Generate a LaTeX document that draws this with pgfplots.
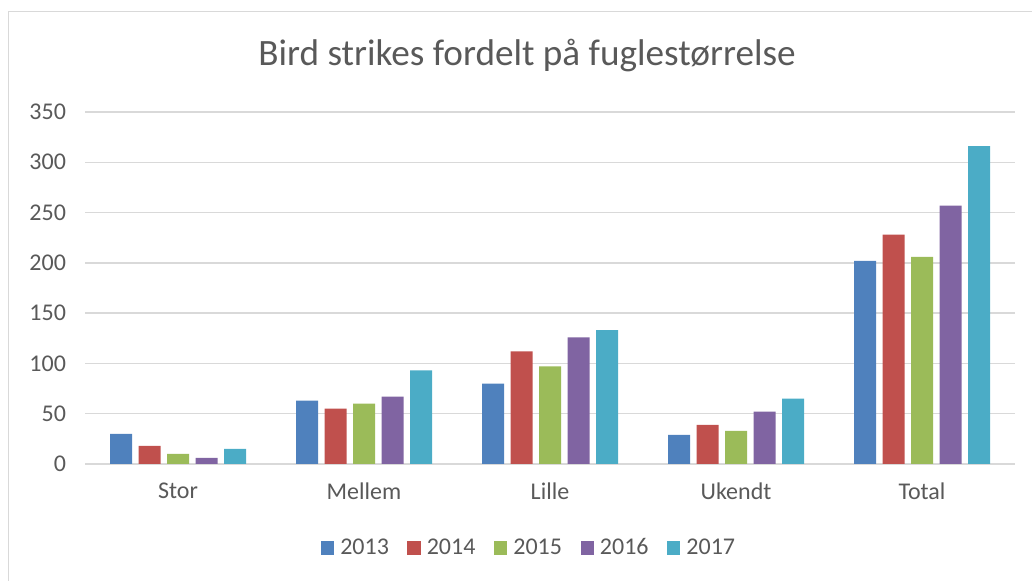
\documentclass[border=0pt]{standalone}
\usepackage{fontspec}
\setmainfont{Carlito}
\usepackage{pgfplots}
\pgfplotsset{compat=1.18}

\definecolor{c2013}{HTML}{4F81BD}
\definecolor{c2014}{HTML}{C0504D}
\definecolor{c2015}{HTML}{9BBB59}
\definecolor{c2016}{HTML}{8064A2}
\definecolor{c2017}{HTML}{4BACC6}
\definecolor{txtgray}{HTML}{595959}
\definecolor{gridgray}{HTML}{D9D9D9}

\begin{document}
\begin{tikzpicture}
\path[use as bounding box] (0,0) rectangle (516pt,290.5pt);
\draw[color=gridgray, line width=0.8pt] (4.25pt,0) -- (4.25pt,284.75pt) -- (516pt,284.75pt);
\begin{axis}[
    at={(42.5pt,58.5pt)}, anchor=south west,
    scale only axis,
    width=465pt, height=176pt,
    ybar=3.25pt, bar width=11pt,
    xmin=-0.5, xmax=4.5,
    ymin=0, ymax=350,
    xtick=data,
    xticklabels={Stor, Mellem, Lille, Ukendt, Total},
    ytick={0,50,...,350},
    major tick length=0pt,
    ymajorgrids, xmajorgrids=false,
    grid style={color=gridgray, line width=0.7pt},
    axis x line*=bottom, axis y line*=left,
    x axis line style={color=gridgray, line width=0.75pt, -},
    y axis line style={draw=none},
    /pgf/number format/assume math mode=true,
    ticklabel style={font=\fontsize{12}{14}\selectfont, text=txtgray},
    yticklabel style={xshift=-6pt},
    xticklabel style={yshift=-6pt},
    title={Bird strikes fordelt på fuglestørrelse},
    title style={at={(axis description cs:0.4753,1.0994)}, anchor=base,
        font=\fontsize{18.6}{22}\selectfont, text=txtgray},
    legend columns=5,
    legend style={at={(axis description cs:0.4785,-0.2386)}, anchor=center,
        draw=none, fill=none, font=\fontsize{12}{14}\selectfont, text=txtgray,
        /tikz/every even column/.append style={column sep=7.25pt},
        /tikz/every odd column/.append style={column sep=1pt}},
    legend image code/.code={\fill[#1] (0pt,-3.35pt) rectangle (6.7pt,3.35pt);},
]
\addplot[fill=c2013, draw=none] coordinates {(0,30) (1,63) (2,80) (3,29) (4,202)};
\addplot[fill=c2014, draw=none] coordinates {(0,18) (1,55) (2,112) (3,39) (4,228)};
\addplot[fill=c2015, draw=none] coordinates {(0,10) (1,60) (2,97) (3,33) (4,206)};
\addplot[fill=c2016, draw=none] coordinates {(0,6) (1,67) (2,126) (3,52) (4,257)};
\addplot[fill=c2017, draw=none] coordinates {(0,15) (1,93) (2,133) (3,65) (4,316)};
\legend{2013, 2014, 2015, 2016, 2017}
\end{axis}
\end{tikzpicture}
\end{document}
